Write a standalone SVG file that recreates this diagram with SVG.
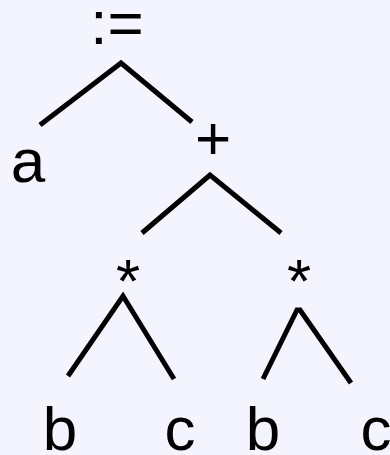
<svg xmlns="http://www.w3.org/2000/svg" width="390" height="455" viewBox="0 0 390 455">
<style>
.t{font-family:"Liberation Sans",Arial,sans-serif;font-size:62px;fill:#000;text-anchor:middle}
.e{fill:none;stroke:#000;stroke-width:5;stroke-linejoin:miter}
</style>
<rect width="390" height="455" fill="#F4F4FF"/>
<g id="connectors">
<polyline class="e" points="40,125 121,63 192,122"/>
<polyline class="e" points="142,233 210,175 281,233"/>
<polyline class="e" points="68,376 123,296 174,379"/>
<polyline class="e" points="263,379 297,310 300,310 351,383"/>
</g>
<g id="assign"><text class="t" x="117" y="44">:=</text></g>
<g id="a"><text class="t" x="28" y="182">a</text></g>
<g id="plus"><text class="t" x="213" y="159">+</text></g>
<g id="mul1"><text class="t" x="128" y="302">*</text></g>
<g id="mul2"><text class="t" x="299" y="302">*</text></g>
<g id="b1"><text class="t" x="60" y="450">b</text></g>
<g id="c1"><text class="t" x="180" y="450">c</text></g>
<g id="b2"><text class="t" x="263" y="450">b</text></g>
<g id="c2"><text class="t" x="376" y="450">c</text></g>
</svg>
